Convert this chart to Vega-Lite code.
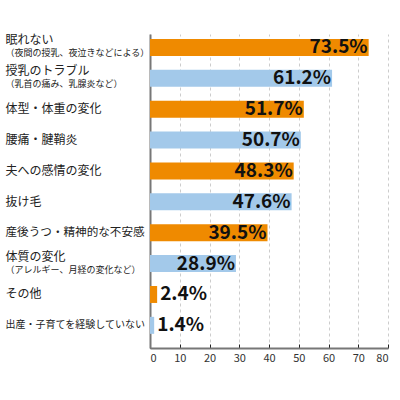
{
  "$schema": "https://vega.github.io/schema/vega-lite/v6.json",
  "width": 238,
  "height": 314,
  "autosize": "none",
  "padding": {"left": 150, "top": 34, "right": 12, "bottom": 52},
  "background": "white",
  "config": {
    "font": "Noto Sans CJK JP",
    "view": {"stroke": null}
  },
  "data": {
    "values": [
      {"item": "眠れない", "sub": "（夜間の授乳、夜泣きなどによる）", "pct": 73.5, "group": "A"},
      {"item": "授乳のトラブル", "sub": "（乳首の痛み、乳腺炎など）", "pct": 61.2, "group": "B"},
      {"item": "体型・体重の変化", "sub": "", "pct": 51.7, "group": "A"},
      {"item": "腰痛・腱鞘炎", "sub": "", "pct": 50.7, "group": "B"},
      {"item": "夫への感情の変化", "sub": "", "pct": 48.3, "group": "A"},
      {"item": "抜け毛", "sub": "", "pct": 47.6, "group": "B"},
      {"item": "産後うつ・精神的な不安感", "sub": "", "pct": 39.5, "group": "A"},
      {"item": "体質の変化", "sub": "（アレルギー、月経の変化など）", "pct": 28.9, "group": "B"},
      {"item": "その他", "sub": "", "pct": 2.4, "group": "A"},
      {"item": "出産・子育てを経験していない", "sub": "", "pct": 1.4, "group": "B"}
    ]
  },
  "transform": [
    {"calculate": "datum.item + '|' + datum.sub", "as": "key"},
    {"calculate": "format(datum.pct, '.1f') + '%'", "as": "pct_label"}
  ],
  "encoding": {
    "x": {"field": "pct", "type": "quantitative",
      "scale": {"domain": [0, 80], "nice": false},
      "axis": {"title": null, "values": [0, 10, 20, 30, 40, 50, 60, 70, 80],
        "tickCount": 9, "labelOverlap": false,
        "grid": true, "gridDash": [3, 3], "gridColor": "#cccccc", "gridWidth": 1,
        "domainColor": "#777777", "domainWidth": 2,
        "tickColor": "#222222", "tickSize": -4, "tickWidth": 1,
        "labelPadding": 8, "labelFontSize": 11, "labelColor": "#333333"}},
    "y": {"field": "key", "type": "nominal", "sort": null,
      "scale": {"paddingInner": 0.45, "paddingOuter": 0.31, "align": 0.26}}
  },
  "layer": [
    {
      "mark": {"type": "bar"},
      "encoding": {
        "y": {"field": "key", "type": "nominal", "sort": null,
          "axis": {"title": null, "ticks": false, "domainColor": "#777777", "domainWidth": 2,
            "labelExpr": "split(datum.value, '|')[0]",
            "labelAlign": "left", "labelPadding": 145, "labelLimit": 0,
            "labelFontSize": {"condition": [
              {"test": "length(split(datum.value, '|')[0]) > 12", "value": 10},
              {"test": "length(split(datum.value, '|')[0]) == 12", "value": 11.6}
            ], "value": 12},
            "labelColor": "#222222",
            "labelOffset": {"condition": {"test": "split(datum.value, '|')[1] != ''", "value": -7}, "value": 0}}},
        "color": {"field": "group", "type": "nominal", "legend": null,
          "scale": {"domain": ["A", "B"], "range": ["#EF8A00", "#A3C9EA"]}}
      }
    },
    {
      "transform": [{"filter": "datum.pct >= 10"}],
      "mark": {"type": "text", "align": "right", "dx": -1, "fontSize": 19, "fontWeight": "bold", "color": "#111111"},
      "encoding": {
        "y": {"field": "key", "type": "nominal", "sort": null,
          "axis": {"title": null, "ticks": false, "domain": false, "orient": "left",
            "labelExpr": "split(datum.value, '|')[1]",
            "labelAlign": "left", "labelPadding": 145, "labelLimit": 0,
            "labelFontSize": 9, "labelColor": "#222222", "labelOffset": 6}},
        "text": {"field": "pct_label", "type": "nominal"}
      }
    },
    {
      "transform": [{"filter": "datum.pct < 10"}],
      "mark": {"type": "text", "align": "left", "dx": 3, "fontSize": 19, "fontWeight": "bold", "color": "#111111"},
      "encoding": {
        "y": {"field": "key", "type": "nominal", "sort": null, "axis": null},
        "text": {"field": "pct_label", "type": "nominal"}
      }
    }
  ],
  "resolve": {"axis": {"y": "independent"}}
}
